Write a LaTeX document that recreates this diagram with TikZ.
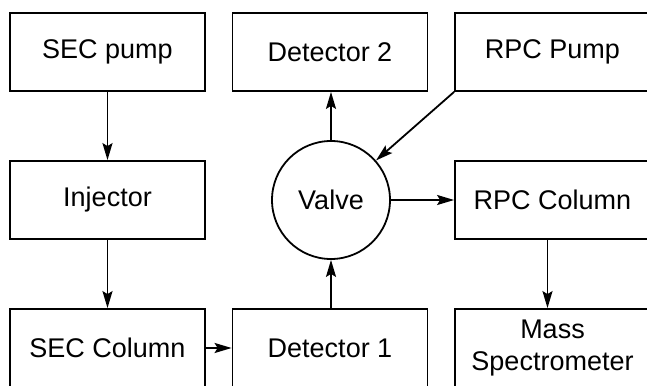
\documentclass[tikz,border=0pt]{standalone}
\usepackage{fontspec}
\setmainfont{Liberation Sans}
\usetikzlibrary{arrows.meta,positioning}
\tikzset{
	box/.style={draw,rectangle,align=center,minimum width=195pt,minimum height=78pt,inner sep=0pt},
	valvebox/.style={draw,circle,minimum size=118pt,inner sep=0pt},
	flow/.style={-{Stealth[length=17pt,width=10pt,inset=3pt]}}
}

\begin{document}
\begin{tikzpicture}[x=1pt,y=-1pt,line width=1.8pt,font=\fontsize{27}{32}\selectfont]
			\useasboundingbox (0,0) rectangle (647,385);
			\clip (0,0) rectangle (647,385);
			\node[box] (secp) at (107.5,52) {SEC pump};
			\node[box] (inj) at (107.5,200) {Injector};
			\node[box] (secc) at (107.5,348) {SEC Column};
			\node[box] (det2) at (330,52) {Detector 2};
			\node[valvebox] (valve) at (331,200) {Valve};
			\node[box] (det1) at (330,348) {Detector 1};
			\node[box] (rpcp) at (552.5,52) {RPC Pump};
			\node[box] (rpcc) at (552.5,200) {RPC Column};
			\node[box] (ms) at (552.5,348) {Mass\\Spectrometer};
			
			\draw[flow] (secp) -- (inj);
			\draw[flow] (inj) -- (secc);
			\draw[flow] (secc) -- (det1);
			\draw[flow] (det1.north -| valve) -- (valve);
			\draw[flow] (valve) -- (det2.south -| valve);
			\draw[flow] (rpcp.south west) -- (valve);
			\draw[flow] (valve) -- (rpcc);
			\draw[flow] ([xshift=-5pt]rpcc.south) -- ([xshift=-5pt]ms.north);
		\end{tikzpicture}
\end{document}
